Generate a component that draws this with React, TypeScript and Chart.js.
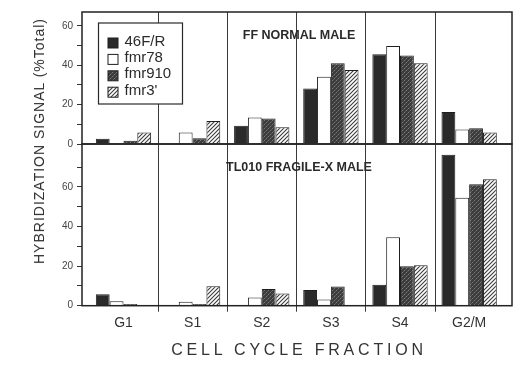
import React, { useEffect, useRef } from 'react';
import { Chart, registerables } from 'chart.js';

Chart.register(...registerables);

// ---------- data ----------
const categories = ['G1', 'S1', 'S2', 'S3', 'S4', 'G2/M'];
const seriesNames = ['46F/R', 'fmr78', 'fmr910', "fmr3'"];

// FF NORMAL MALE (top panel)
const normal46FR = [2.7, 0, 9.2, 28.2, 45.5, 16.3];
const normalFmr78 = [0, 5.8, 13.4, 34.1, 49.7, 7.3];
const normalFmr910 = [1.7, 2.9, 12.9, 41.0, 44.9, 8.0];
const normalFmr3 = [5.9, 11.7, 8.5, 37.6, 41.0, 5.8];

// TL010 FRAGILE-X MALE (bottom panel)
const fragile46FR = [5.8, 0, 0, 7.9, 10.6, 76.3];
const fragileFmr78 = [2.2, 2.0, 4.2, 3.1, 34.6, 54.6];
const fragileFmr910 = [0.9, 0.9, 8.4, 9.7, 19.9, 61.4];
const fragileFmr3 = [0, 9.8, 6.2, 0, 20.4, 63.9];

const topPanelTitle = 'FF NORMAL MALE';
const bottomPanelTitle = 'TL010 FRAGILE-X MALE';
const yAxisTitle = 'HYBRIDIZATION SIGNAL (%Total)';
const xAxisTitle = 'CELL CYCLE FRACTION';
const yLabelValues = [0, 20, 40, 60];

const FONT = '"Liberation Sans", Arial, sans-serif';
const INK = '#2a2a2a';

function makeFills(): (string | CanvasPattern)[] {
  const mk = (draw: (c: CanvasRenderingContext2D) => void, s: number) => {
    const cv = document.createElement('canvas');
    cv.width = s;
    cv.height = s;
    const c = cv.getContext('2d')!;
    draw(c);
    return c.createPattern(cv, 'repeat')!;
  };
  const stipple = mk((c) => {
    c.fillStyle = '#3c3c3c';
    c.fillRect(0, 0, 4, 4);
    c.fillStyle = '#7a7a7a';
    c.fillRect(0, 0, 1, 1);
    c.fillRect(2, 2, 1, 1);
    c.fillStyle = '#5c5c5c';
    c.fillRect(1, 3, 1, 1);
    c.fillRect(3, 1, 1, 1);
  }, 4);
  const hatch = mk((c) => {
    c.fillStyle = '#ffffff';
    c.fillRect(0, 0, 4, 4);
    c.strokeStyle = '#3a3a3a';
    c.lineWidth = 1.1;
    c.beginPath();
    c.moveTo(-1, 5);
    c.lineTo(5, -1);
    c.moveTo(-1, 1);
    c.lineTo(1, -1);
    c.moveTo(3, 5);
    c.lineTo(5, 3);
    c.stroke();
  }, 4);
  return [INK, '#ffffff', stipple, hatch];
}

function makeDatasets(values: number[][], fills: (string | CanvasPattern)[]) {
  return seriesNames.map((name, i) => ({
    label: name,
    data: values[i].map((v, j) => ({ x: j, y: v })),
    backgroundColor: fills[i],
    borderColor: '#1e1e1e',
    borderWidth: 1,
    categoryPercentage: 0.8,
    barPercentage: 1.0,
  }));
}

const panelPlugin = {
  id: 'panelDecor',
  beforeDatasetsDraw(chart: any, _a: any, opts: any) {
    const { ctx, chartArea: a, scales } = chart;
    const x = scales.x;
    ctx.save();
    ctx.strokeStyle = '#3a3a3a';
    ctx.lineWidth = 1;
    for (let i = 0; i < categories.length - 1; i++) {
      const px = Math.round(x.getPixelForValue(i + 0.5)) + 0.5;
      ctx.beginPath();
      ctx.moveTo(px, a.top);
      ctx.lineTo(px, a.bottom + (opts.tickBelow || 0));
      ctx.stroke();
    }
    ctx.restore();
  },
  afterDatasetsDraw(chart: any, _a: any, opts: any) {
    const { ctx, chartArea: a } = chart;
    ctx.save();
    ctx.strokeStyle = '#222';
    ctx.lineWidth = 1.5;
    ctx.strokeRect(a.left, a.top, a.right - a.left, a.bottom - a.top);
    ctx.font = `bold 12.5px ${FONT}`;
    ctx.fillStyle = INK;
    ctx.textAlign = 'center';
    ctx.textBaseline = 'middle';
    ctx.fillText(opts.title, (a.left + a.right) / 2 + 2, a.top + opts.titleDy);
    ctx.restore();
  },
};

const legendPlugin = {
  id: 'boxLegend',
  afterDatasetsDraw(chart: any, _a: any, opts: any) {
    if (!opts.show) return;
    const { ctx, chartArea: a } = chart;
    const bx = a.left + 16.5;
    const by = a.top + 11;
    const bw = 84;
    const bh = 81;
    ctx.save();
    ctx.fillStyle = '#fff';
    ctx.fillRect(bx, by, bw, bh);
    ctx.strokeStyle = '#2a2a2a';
    ctx.lineWidth = 1.2;
    ctx.strokeRect(bx, by, bw, bh);
    ctx.font = `15px ${FONT}`;
    ctx.textBaseline = 'middle';
    ctx.textAlign = 'left';
    chart.data.datasets.forEach((ds: any, i: number) => {
      const cy = by + 20 + i * 16.4;
      ctx.fillStyle = ds.backgroundColor;
      ctx.fillRect(bx + 9.5, cy - 5, 10, 10);
      ctx.strokeStyle = '#1e1e1e';
      ctx.lineWidth = 1;
      ctx.strokeRect(bx + 9.5, cy - 5, 10, 10);
      ctx.fillStyle = INK;
      ctx.fillText(ds.label, bx + 26, cy - 1.5);
    });
    ctx.restore();
  },
};

function yScale(max: number, keepMax: number) {
  return {
    type: 'linear',
    position: 'left',
    min: 0,
    max,
    afterFit: (s: any) => {
      s.width = 82;
    },
    afterBuildTicks: (s: any) => {
      s.ticks = s.ticks.filter((t: any) => t.value <= keepMax);
    },
    ticks: {
      stepSize: 10,
      includeBounds: false,
      padding: 4,
      color: '#444',
      font: { family: FONT, size: 10 },
      callback: (v: number) => (yLabelValues.includes(v) ? String(v) : ''),
    },
    grid: {
      drawOnChartArea: false,
      drawTicks: true,
      tickLength: 5,
      color: '#333',
      lineWidth: 1,
    },
    border: { display: false },
  };
}

function xScale(show: boolean) {
  const base: any = {
    type: 'linear',
    min: -0.6,
    max: 5.62,
    offset: false,
    display: show,
    afterBuildTicks: (s: any) => {
      s.ticks = categories.map((_, i) => ({ value: i }));
    },
    ticks: {
      autoSkip: false,
      maxRotation: 0,
      padding: 9,
      color: '#333',
      font: { family: FONT, size: 14 },
      callback: (v: number) => categories[v] ?? '',
    },
    grid: { display: false, drawTicks: false, offset: false },
    border: { display: false },
  };
  if (show) {
    base.afterFit = (s: any) => {
      s.height = 59.3;
    };
  }
  return base;
}

export default function App() {
  const topRef = useRef<HTMLCanvasElement>(null);
  const botRef = useRef<HTMLCanvasElement>(null);

  useEffect(() => {
    const fills = makeFills();
    const common = {
      responsive: false,
      maintainAspectRatio: false,
      animation: false,
      events: [],
    };
    const top = new Chart(topRef.current!, {
      type: 'bar',
      data: {
        datasets: makeDatasets([normal46FR, normalFmr78, normalFmr910, normalFmr3], fills) as any,
      },
      options: {
        ...common,
        layout: { padding: { left: 0, right: 13, top: 12, bottom: 12 } },
        scales: { x: xScale(false), y: yScale(67, 60) as any },
        plugins: {
          legend: { display: false },
          tooltip: { enabled: false },
          panelDecor: { title: topPanelTitle, titleDy: 24, tickBelow: 0 },
          boxLegend: { show: true },
        } as any,
      },
      plugins: [panelPlugin, legendPlugin],
    } as any);
    const bot = new Chart(botRef.current!, {
      type: 'bar',
      data: {
        datasets: makeDatasets([fragile46FR, fragileFmr78, fragileFmr910, fragileFmr3], fills) as any,
      },
      options: {
        ...common,
        layout: { padding: { left: 0, right: 13, top: 10, bottom: 0 } },
        scales: { x: xScale(true), y: yScale(81.7, 70) as any },
        plugins: {
          legend: { display: false },
          tooltip: { enabled: false },
          panelDecor: { title: bottomPanelTitle, titleDy: 23.5, tickBelow: 6 },
          boxLegend: { show: false },
        } as any,
      },
      plugins: [panelPlugin, legendPlugin],
    } as any);
    return () => {
      top.destroy();
      bot.destroy();
    };
  }, []);

  return (
    <div
      style={{
        position: 'absolute',
        left: 0,
        top: 0,
        width: 525,
        height: 365,
        background: '#fff',
        overflow: 'hidden',
        fontFamily: FONT,
        color: '#333',
      }}
    >
      <canvas
        ref={topRef}
        width={525}
        height={156}
        style={{ position: 'absolute', left: 0, top: 0, width: 525, height: 156 }}
      />
      <canvas
        ref={botRef}
        width={525}
        height={231}
        style={{ position: 'absolute', left: 0, top: 134, width: 525, height: 231 }}
      />
      <div
        style={{
          position: 'absolute',
          left: 39,
          top: 141,
          transform: 'translate(-50%, -50%) rotate(-90deg)',
          whiteSpace: 'nowrap',
          fontSize: 14,
          letterSpacing: '1px',
          lineHeight: 1,
        }}
      >
        {yAxisTitle}
      </div>
      <div
        style={{
          position: 'absolute',
          left: 299,
          top: 350,
          transform: 'translate(-50%, -50%)',
          whiteSpace: 'nowrap',
          fontSize: 16,
          letterSpacing: '3.8px',
          lineHeight: 1,
        }}
      >
        {xAxisTitle}
      </div>
    </div>
  );
}
